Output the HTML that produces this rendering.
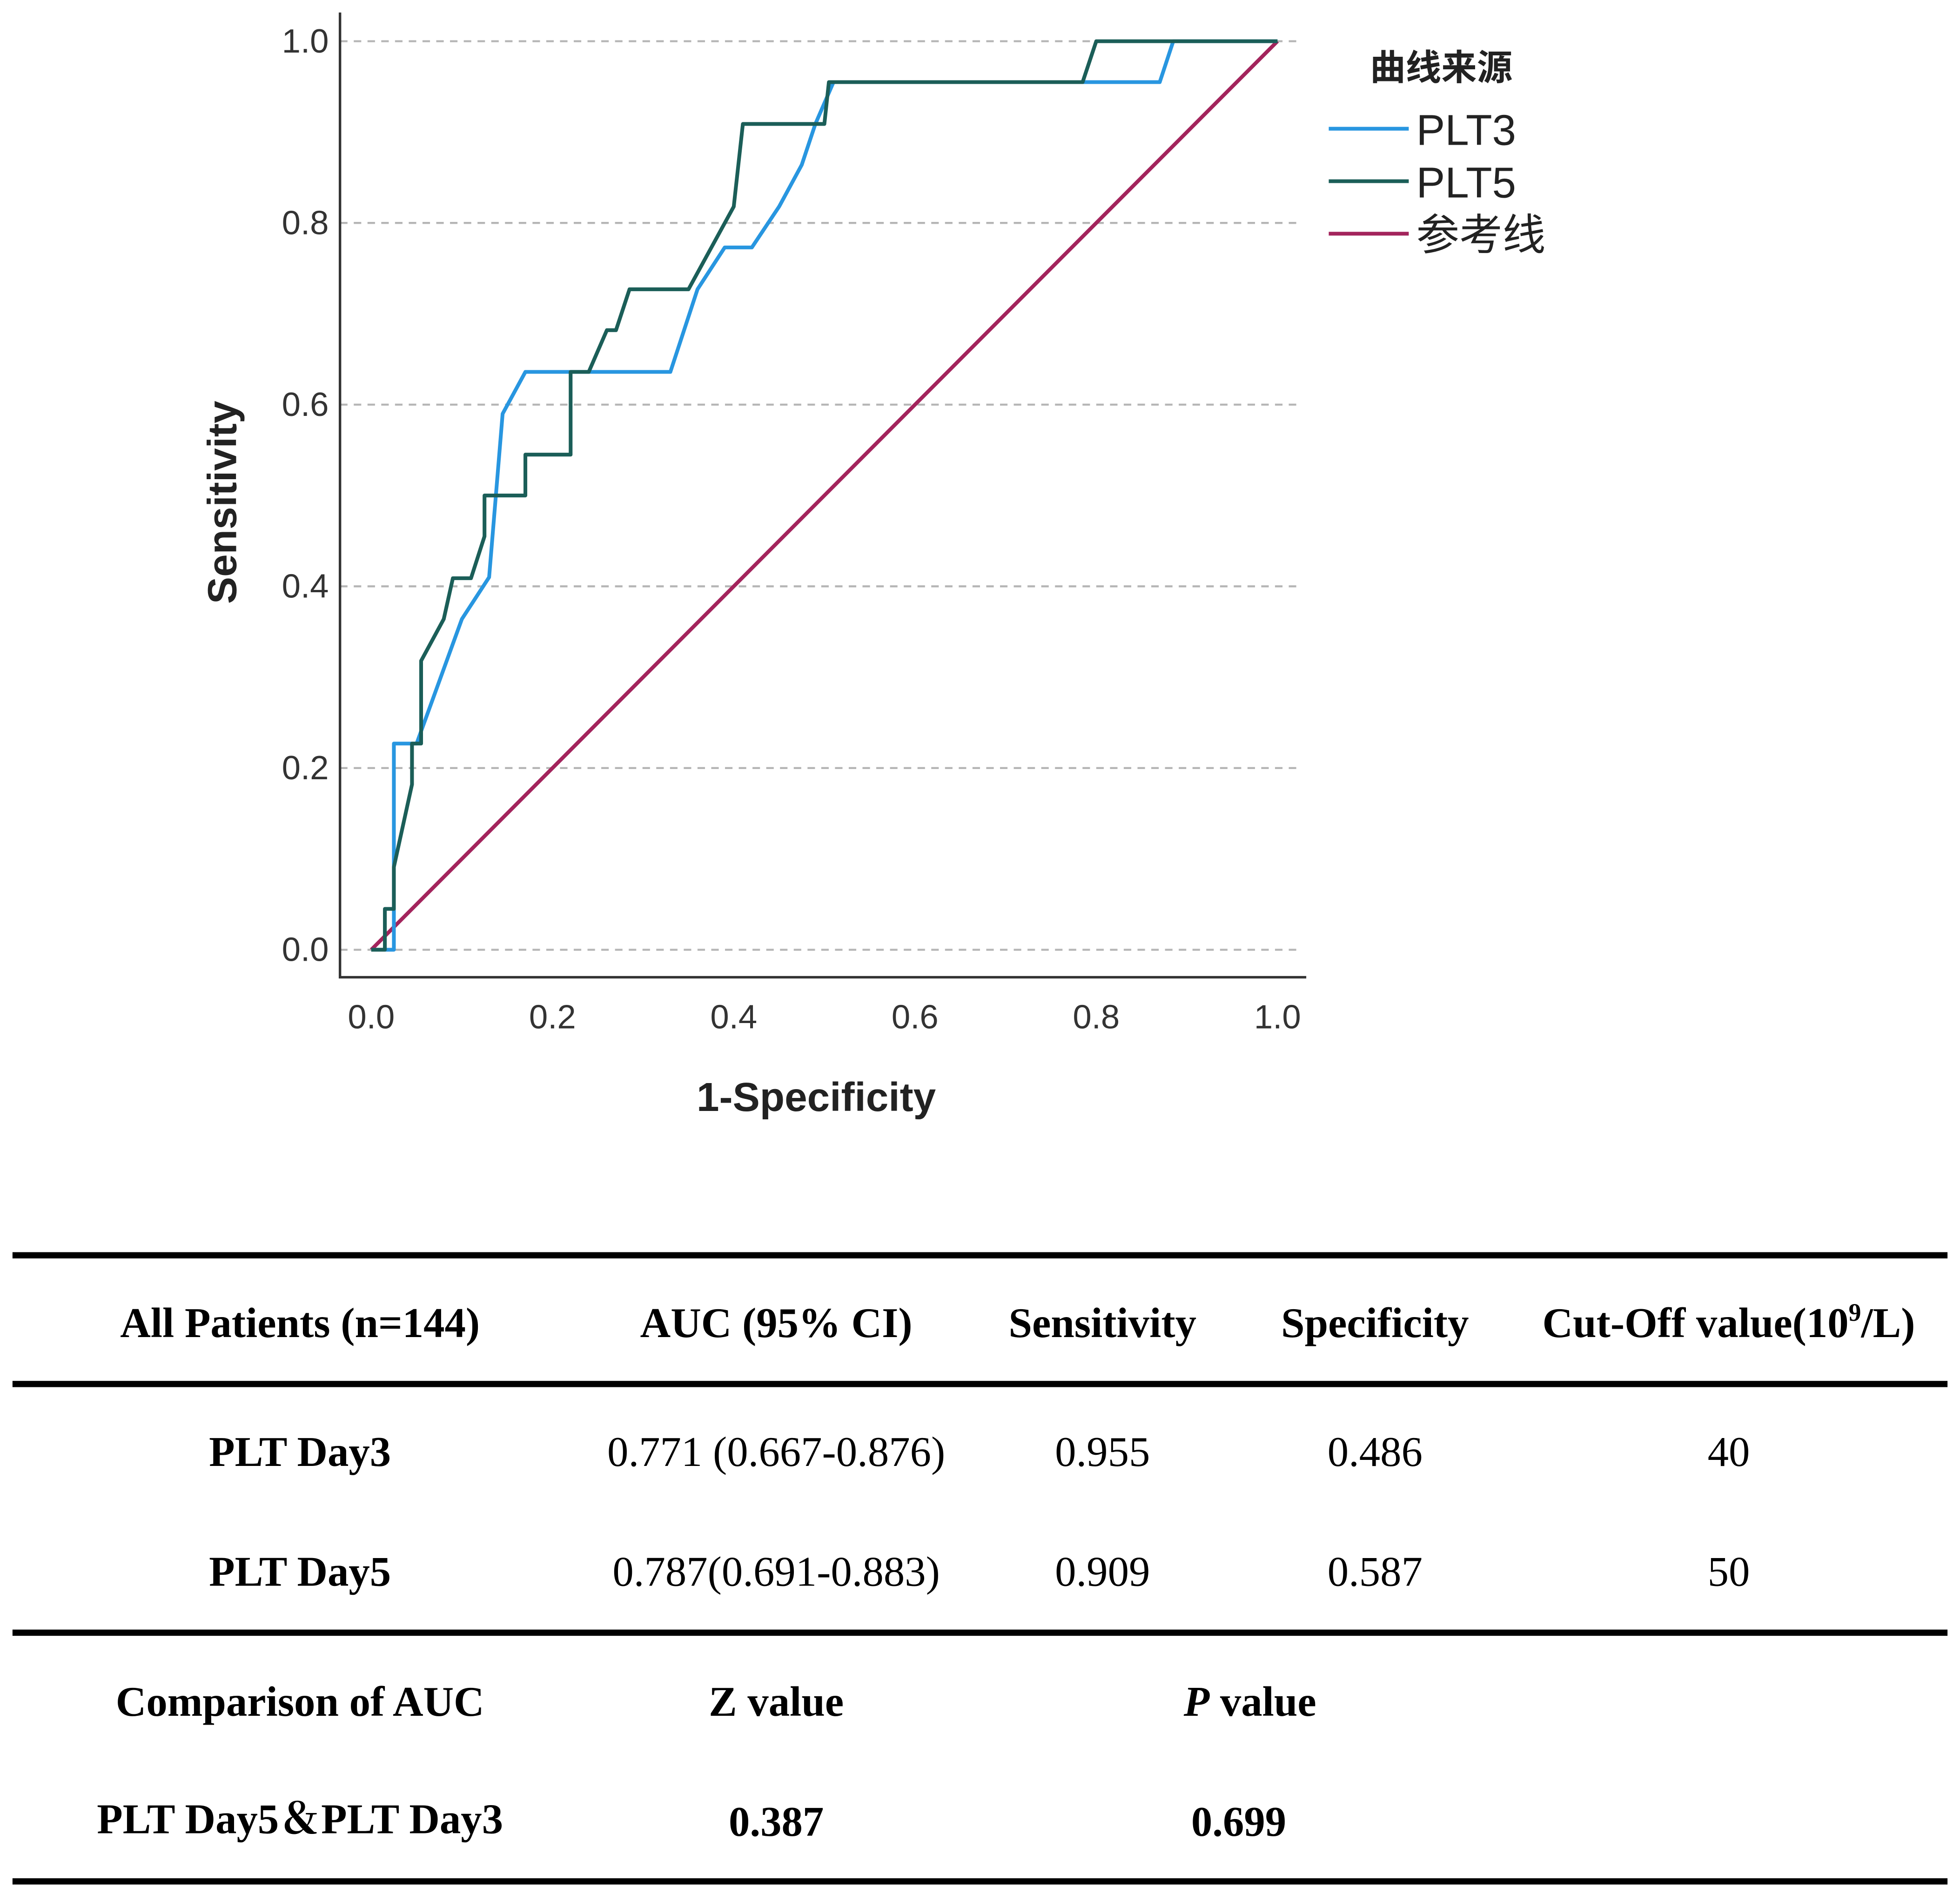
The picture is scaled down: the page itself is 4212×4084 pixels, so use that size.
<!DOCTYPE html>
<html>
<head>
<meta charset="utf-8">
<style>
html,body{margin:0;padding:0;background:#fff;}
svg{display:block;}
</style>
</head>
<body>
<svg id="fig" width="4212" height="4084" viewBox="0 0 1568 1520.4" preserveAspectRatio="none" xmlns="http://www.w3.org/2000/svg">
<rect x="0" y="0" width="1568" height="1520.4" fill="#fff"/>
<g id="chart"></g>
<g id="legend" font-family="Liberation Sans, Noto Sans CJK SC, sans-serif">
  <text x="1153" y="64" font-size="28.5" font-weight="bold" text-anchor="middle" fill="#222">曲线来源</text>
  <g><line x1="1063" y1="103" x2="1127" y2="103" stroke="#2896e0" stroke-width="3"/><text x="1133" y="116" font-size="34.5" fill="#222">PLT3</text></g>
  <g><line x1="1063" y1="145" x2="1127" y2="145" stroke="#1b5e58" stroke-width="3"/><text x="1133" y="158" font-size="34.5" fill="#222">PLT5</text></g>
  <g><line x1="1063" y1="187" x2="1127" y2="187" stroke="#a3245c" stroke-width="3"/><text x="1133" y="200" font-size="34.5" fill="#222">参考线</text></g>
</g>
<g id="table" font-family="Liberation Serif, Noto Serif CJK SC, serif" font-size="33.8" fill="#000" text-anchor="middle">
  <rect x="10" y="1002" width="1548" height="5" fill="#000"/>
  <rect x="10" y="1105" width="1548" height="5" fill="#000"/>
  <rect x="10" y="1304" width="1548" height="5" fill="#000"/>
  <rect x="10" y="1503" width="1548" height="5" fill="#000"/>
  <g font-weight="bold">
    <text x="240" y="1070">All Patients (n=144)</text>
    <text x="621" y="1070">AUC (95% CI)</text>
    <text x="882" y="1070">Sensitivity</text>
    <text x="1100" y="1070">Specificity</text>
    <text x="1383" y="1070">Cut-Off value(10<tspan font-size="20" dy="-13">9</tspan><tspan dy="13">/L)</tspan></text>
  </g>
  <g>
    <text x="240" y="1173" font-weight="bold">PLT Day3</text>
    <text x="621" y="1173">0.771 (0.667-0.876)</text>
    <text x="882" y="1173">0.955</text>
    <text x="1100" y="1173">0.486</text>
    <text x="1383" y="1173">40</text>
  </g>
  <g>
    <text x="240" y="1269" font-weight="bold">PLT Day5</text>
    <text x="621" y="1269">0.787(0.691-0.883)</text>
    <text x="882" y="1269">0.909</text>
    <text x="1100" y="1269">0.587</text>
    <text x="1383" y="1269">50</text>
  </g>
  <g font-weight="bold">
    <text x="240" y="1373">Comparison of AUC</text>
    <text x="621" y="1373">Z value</text>
    <text x="1000" y="1373"><tspan font-style="italic">P</tspan> value</text>
  </g>
  <g font-weight="bold">
    <text x="240" y="1467">PLT Day5＆PLT Day3</text>
    <text x="621" y="1469">0.387</text>
    <text x="991" y="1469">0.699</text>
  </g>
</g>
</svg>
<script>
const xTicks = [0.0, 0.2, 0.4, 0.6, 0.8, 1.0];
const yTicks = [0.0, 0.2, 0.4, 0.6, 0.8, 1.0];
const plt3X = [0,0.025,0.025,0.05,0.1,0.13,0.145,0.17,0.33,0.36,0.39,0.42,0.45,0.475,0.49,0.51,0.87,0.885,1];
const plt3Y = [0,0,0.227,0.227,0.364,0.41,0.59,0.636,0.636,0.727,0.773,0.773,0.818,0.864,0.909,0.955,0.955,1,1];
const plt5X = [0,0.015,0.015,0.025,0.025,0.045,0.045,0.055,0.055,0.08,0.09,0.11,0.125,0.125,0.17,0.17,0.22,0.22,0.24,0.26,0.27,0.285,0.35,0.4,0.41,0.5,0.505,0.785,0.8,1];
const plt5Y = [0,0,0.045,0.045,0.091,0.182,0.227,0.227,0.318,0.364,0.409,0.409,0.455,0.5,0.5,0.545,0.545,0.636,0.636,0.682,0.682,0.727,0.727,0.818,0.909,0.909,0.955,0.955,1,1];
const refX = [0,1];
const refY = [0,1];

const NS = "http://www.w3.org/2000/svg";
const g = document.getElementById('chart');
const X0 = 297, X1 = 1022, Y0 = 760, Y1 = 33;
const sx = v => X0 + v * (X1 - X0);
const sy = v => Y0 - v * (Y0 - Y1);
function mk(tag, attrs){ const e = document.createElementNS(NS, tag); for (const k in attrs) e.setAttribute(k, attrs[k]); g.appendChild(e); return e; }

yTicks.forEach(t => {
  const gl = mk('line', {x1: 272, x2: 1040, y1: sy(t), y2: sy(t), stroke: '#b5b5b5', 'stroke-width': 1.6, 'stroke-dasharray': '6,5'});
  
  
  const tl = mk('text', {x: 263, y: sy(t) + 9, 'text-anchor': 'end', 'font-size': 27, fill: '#333', 'font-family': 'Liberation Sans, sans-serif'});
  tl.textContent = t.toFixed(1);
  
  
});
xTicks.forEach(t => {
  const tl = mk('text', {x: sx(t), y: 823, 'text-anchor': 'middle', 'font-size': 27, fill: '#333', 'font-family': 'Liberation Sans, sans-serif'});
  tl.textContent = t.toFixed(1);
  
  
});
const ax = mk('path', {d: 'M272,10 L272,782 L1045,782', fill: 'none', stroke: '#333', 'stroke-width': 2});



function series(xs, ys, color, name){
  const d = xs.map((x,i) => (i ? 'L' : 'M') + sx(x).toFixed(1) + ',' + sy(ys[i]).toFixed(1)).join(' ');
  const p = mk('path', {d, fill: 'none', stroke: color, 'stroke-width': 3, 'stroke-linejoin': 'round'});
  
  
}
series(refX, refY, '#a3245c', 'reference-line');
series(plt3X, plt3Y, '#2896e0', 'plt3-roc-curve');
series(plt5X, plt5Y, '#1b5e58', 'plt5-roc-curve');

const yt = mk('text', {x: 0, y: 0, transform: 'translate(189,402) rotate(-90)', 'text-anchor': 'middle', 'font-size': 32.5, 'font-weight': 'bold', fill: '#222', 'font-family': 'Liberation Sans, sans-serif'});
yt.textContent = 'Sensitivity';


const xt = mk('text', {x: 653, y: 889, 'text-anchor': 'middle', 'font-size': 32.5, 'font-weight': 'bold', fill: '#222', 'font-family': 'Liberation Sans, sans-serif'});
xt.textContent = '1-Specificity';


</script>
</body>
</html>
